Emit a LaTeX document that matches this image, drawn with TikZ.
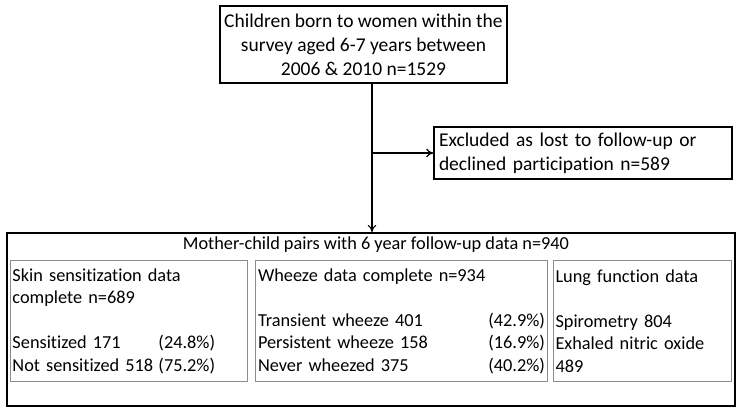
\documentclass[tikz,border=0pt]{standalone}
\usepackage{fontspec}
\setmainfont{Carlito}[Ligatures=NoCommon]
\usepackage{tikz}
\usetikzlibrary{positioning,arrows.meta}

\begin{document}
\begin{tikzpicture}[x=1pt, y=-1pt,
  box/.style={draw, line width=1.3pt, align=#1, inner sep=4pt, font=\fontsize{19.5}{24}\selectfont},
  panel/.style={draw=black!45, line width=1pt, anchor=north west, align=left, inner sep=2pt, minimum height=121pt, font=\fontsize{18.3}{22.5}\selectfont},
  link/.style={-{To[length=2.5mm, width=3mm]}, line width=1.2pt}
]
  \useasboundingbox (0,0) rectangle (742,412);

  \node[box=center, minimum width=287pt, minimum height=77pt] (born) at (363.5,44.5) {Children born to women within the\\survey aged 6-7 years between\\2006 \& 2010 n=1529};
  \node[box=left, text width=288pt, minimum height=52pt, inner sep=5pt] (excl) at (583,153) {Excluded as lost to follow-up or\\declined participation n=589};

  \node[draw, line width=2pt, anchor=north west, minimum width=728pt, minimum height=173pt] (pairs) at (6,232) {};
  \node[font=\fontsize{18.3}{22.5}\selectfont] (title) at (376,245) {Mother-child pairs with 6 year follow-up data n=940};

  \node[panel, text width=233pt, minimum width=237pt] (skin) at (10,260) {Skin sensitization data\\complete n=689\\\mbox{}\\
    \makebox[146pt][l]{Sensitized 171}(24.8\%)\\
    \makebox[146pt][l]{Not sensitized 518}(75.2\%)};
  \node[panel, text width=287pt, minimum width=292pt] (whz) at (255,260) {Wheeze data complete n=934\\\mbox{}\\
    Transient wheeze 401\hfill(42.9\%)\\
    Persistent wheeze 158\hfill(16.9\%)\\
    Never wheezed 375\hfill(40.2\%)};
  \node[panel, text width=174pt, minimum width=178pt] (lung) at (553,260) {Lung function data\\\mbox{}\\
    Spirometry 804\\Exhaled nitric oxide\\489};

  \coordinate (split) at (372,153);
  \draw[line width=1.2pt] (split |- born.south) -- (split);
  \draw[link] (split) -- (split |- pairs.north);
  \draw[link] (split) -- (excl.west);
\end{tikzpicture}
\end{document}
